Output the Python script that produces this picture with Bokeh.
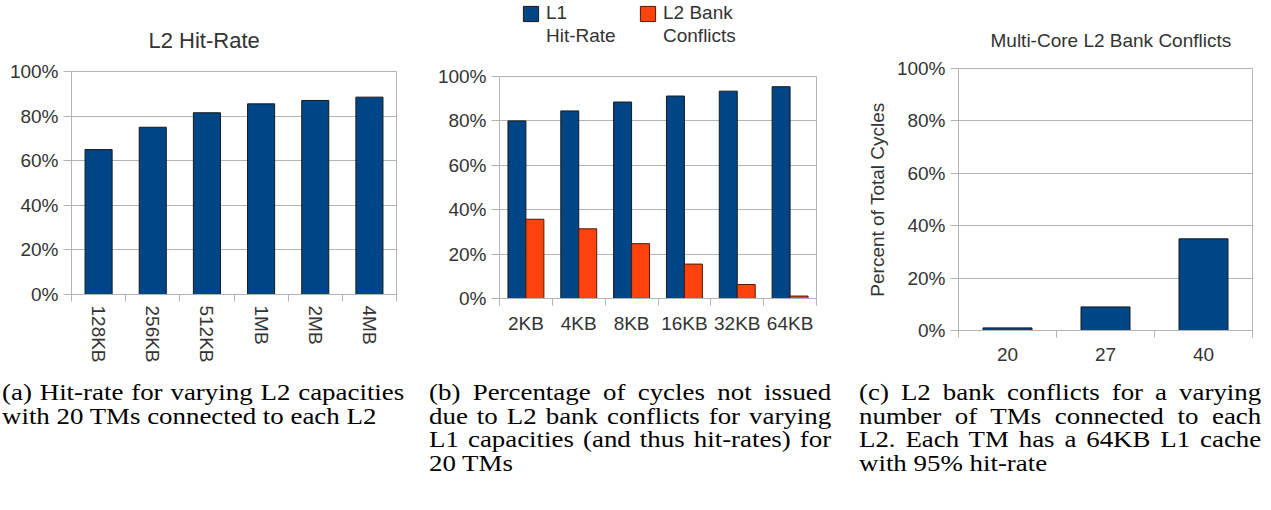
from bokeh.plotting import figure
from bokeh.models import (Range1d, FixedTicker, NumeralTickFormatter, Legend, LegendItem,
                          Div, Title, ColumnDataSource)
from bokeh.transform import dodge
from bokeh.layouts import row, column
from bokeh.embed import file_html
from bokeh.resources import INLINE

# ---------------- data ----------------
l2_sizes = ["128KB", "256KB", "512KB", "1MB", "2MB", "4MB"]
l2_hit_rate = [0.65, 0.75, 0.815, 0.855, 0.87, 0.885]

l1_sizes = ["2KB", "4KB", "8KB", "16KB", "32KB", "64KB"]
l1_hit_rate = [0.80, 0.845, 0.885, 0.912, 0.934, 0.954]
l2_bank_conflicts = [0.357, 0.314, 0.247, 0.155, 0.063, 0.011]

tm_counts = ["20", "27", "40"]
multicore_conflicts = [0.01, 0.09, 0.35]

y_ticks = [0, 0.2, 0.4, 0.6, 0.8, 1.0]

legend_lines = [["L1", "Hit-Rate"], ["L2 Bank", "Conflicts"]]

captions = [
    ["(a) Hit-rate for varying L2 capacities", "with 20 TMs connected to each L2"],
    ["(b) Percentage of cycles not issued", "due to L2 bank conflicts for varying",
     "L1 capacities (and thus hit-rates) for", "20 TMs"],
    ["(c) L2 bank conflicts for a varying", "number of TMs connected to each",
     "L2. Each TM has a 64KB L1 cache", "with 95% hit-rate"],
]

BLUE = "#004586"
ORANGE = "#ff420e"
GRID = "#b3b3b3"
TXT = "#333333"
FONT = "Liberation Sans"
FS = "19px"


def make_fig(n, labels, w, h, left, right, top, bottom, vertical=False, xstand=7):
    p = figure(width=w, height=h, output_backend="svg", toolbar_location=None,
               x_range=Range1d(-0.5, n - 0.5), y_range=Range1d(0, 1),
               min_border_left=left, min_border_right=right,
               min_border_top=top, min_border_bottom=bottom)
    p.outline_line_color = GRID
    p.background_fill_color = "white"
    p.border_fill_color = "white"
    p.xgrid.grid_line_color = None
    p.ygrid.grid_line_color = GRID
    p.ygrid.ticker = FixedTicker(ticks=y_ticks)

    xa = p.xaxis[0]
    xa.ticker = FixedTicker(ticks=list(range(n)),
                            minor_ticks=[i - 0.5 for i in range(n + 1)])
    xa.major_label_overrides = {i: lab for i, lab in enumerate(labels)}
    xa.major_tick_out = 0
    xa.major_tick_in = 0
    xa.minor_tick_out = 7
    xa.minor_tick_in = 0
    xa.minor_tick_line_color = GRID
    xa.axis_line_color = GRID
    xa.major_label_text_font = FONT
    xa.major_label_text_font_size = FS
    xa.major_label_text_color = TXT
    xa.major_label_standoff = xstand
    if vertical:
        xa.major_label_orientation = "vertical"

    ya = p.yaxis[0]
    ya.ticker = FixedTicker(ticks=y_ticks)
    ya.formatter = NumeralTickFormatter(format="0%")
    ya.major_tick_out = 8
    ya.major_tick_in = 0
    ya.minor_tick_line_color = None
    ya.major_tick_line_color = GRID
    ya.axis_line_color = GRID
    ya.major_label_text_font = FONT
    ya.major_label_text_font_size = FS
    ya.major_label_text_color = TXT
    ya.major_label_standoff = 5
    return p


# ---------------- (a) ----------------
pa = make_fig(len(l2_sizes), l2_sizes, 427, 381, 71, 31, 71, 87, vertical=True, xstand=4)
src_a = ColumnDataSource(dict(x=list(range(len(l2_sizes))), y=l2_hit_rate))
pa.vbar(x="x", top="y", width=0.5, source=src_a, fill_color=BLUE,
        line_color="#1a1a1a", line_width=1)
pa.title = Title(text="L2 Hit-Rate", align="left", offset=77,
                 text_font=FONT, text_font_size="22px",
                 text_font_style="normal", text_color=TXT, standoff=38)

# ---------------- (b) ----------------
LH = 56
src_b = ColumnDataSource(dict(x=list(range(len(l1_sizes))), hit=l1_hit_rate,
                              conf=l2_bank_conflicts))
pb = make_fig(len(l1_sizes), l1_sizes, 430, 381 - LH, 72, 41, 76 - LH, 83, xstand=7)
pb.vbar(x=dodge("x", -0.17, range=pb.x_range), top="hit", width=0.34,
        source=src_b, fill_color=BLUE, line_color="#1a1a1a", line_width=1)
pb.vbar(x=dodge("x", 0.17, range=pb.x_range), top="conf", width=0.34,
        source=src_b, fill_color=ORANGE, line_color="#4d1a0a", line_width=1)

# legend strip above (b): its view ranges lie away from the data, so only the
# legend is visible there
pl = figure(width=430, height=LH, output_backend="svg", toolbar_location=None,
            x_axis_location=None, y_axis_location=None,
            x_range=Range1d(10, 11), y_range=Range1d(10, 11), min_border=0)
pl.outline_line_color = None
pl.grid.grid_line_color = None
pl.background_fill_color = "white"
pl.border_fill_color = "white"
series_styles = [("hit", BLUE, "#1a1a1a"), ("conf", ORANGE, "#4d1a0a")]
legend_x = [22, 139]
for (col, fc, lc), lines, lx in zip(series_styles, legend_lines, legend_x):
    r_vis = pl.vbar(x="x", top=col, width=0.34, source=src_b,
                    fill_color=fc, line_color=lc, line_width=1)
    r_inv = pl.vbar(x="x", top=col, width=0.34, source=src_b,
                    fill_alpha=0, line_alpha=0)
    lg = Legend(items=[LegendItem(label=lines[0], renderers=[r_vis]),
                       LegendItem(label=lines[1], renderers=[r_inv])],
                orientation="vertical", location=(lx, 9),
                border_line_alpha=0, background_fill_alpha=0,
                padding=0, margin=0, spacing=1,
                glyph_width=19, glyph_height=19, label_standoff=6,
                label_text_font=FONT, label_text_font_size=FS,
                label_text_color=TXT, label_height=15)
    pl.add_layout(lg, "center")

# ---------------- (c) ----------------
pc = make_fig(len(tm_counts), tm_counts, 412, 381, 101, 17, 68, 51, xstand=10)
src_c = ColumnDataSource(dict(x=list(range(len(tm_counts))), y=multicore_conflicts))
pc.vbar(x="x", top="y", width=0.5, source=src_c, fill_color=BLUE,
        line_color="#1a1a1a", line_width=1)
pc.title = Title(text="Multi-Core L2 Bank Conflicts", align="left", offset=32,
                 text_font=FONT, text_font_size="19px",
                 text_font_style="normal", text_color=TXT, standoff=36)
pc.yaxis[0].axis_label = "Percent of Total Cycles"
pc.yaxis[0].axis_label_text_font = FONT
pc.yaxis[0].axis_label_text_font_size = FS
pc.yaxis[0].axis_label_text_font_style = "normal"
pc.yaxis[0].axis_label_text_color = TXT
pc.yaxis[0].axis_label_standoff = 6


def caption_div(lines):
    parts = []
    for i, ln in enumerate(lines):
        last = (i == len(lines) - 1)
        align = "text-align:left;" if last else "text-align:justify;text-align-last:justify;"
        parts.append(f'<div style="{align}white-space:normal;">{ln}</div>')
    html = ('<div style="font-family:\'Liberation Serif\';font-size:22.6px;line-height:23.5px;'
            'color:#000;width:338px;transform:scaleX(1.19);transform-origin:0 0;">'
            + "".join(parts) + "</div>")
    return Div(text=html, width=405, height=100, margin=(0, 0, 0, 2))


col_a = column(pa, caption_div(captions[0]), spacing=0)
col_b = column(pl, pb, caption_div(captions[1]), spacing=0)
col_c = column(pc, caption_div(captions[2]), spacing=0)
root = row(col_a, col_b, col_c, spacing=0)

open("out.html", "w").write(file_html(root, INLINE))
